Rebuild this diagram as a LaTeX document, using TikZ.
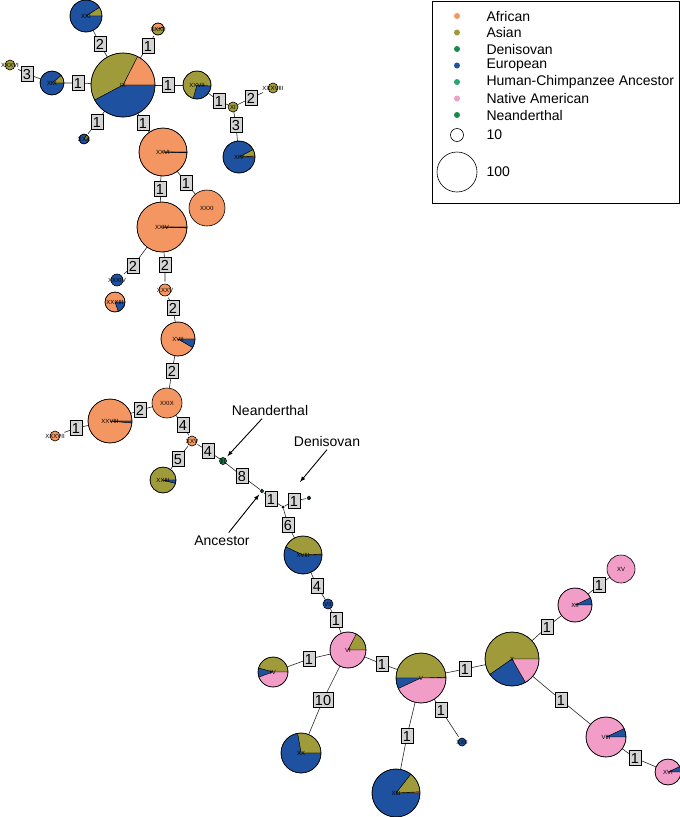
\documentclass[tikz,border=0pt]{standalone}
\usepackage{fontspec}
\setmainfont{Liberation Sans}
\usetikzlibrary{arrows}
\pgfdeclarelayer{linien}
\pgfdeclarelayer{kuchen}
\pgfsetlayers{linien,kuchen,main}
\definecolor{afrika}{RGB}{244,150,98}
\definecolor{asien}{RGB}{160,155,58}
\definecolor{denisova}{RGB}{22,138,72}
\definecolor{europa}{RGB}{30,82,160}
\definecolor{urahn}{RGB}{36,168,112}
\definecolor{amerika}{RGB}{242,156,200}
\definecolor{neandertal}{RGB}{22,138,72}

\begin{document}
\begin{tikzpicture}[x=1pt, y=-1pt,
    knoten/.style={
      circle,
      inner sep=0pt,
      font=\fontsize{6}{6}\selectfont},
    kasten/.style={
      rectangle,
      draw,
      fill=black!17,
      line width=.5pt,
      inner xsep=1.8pt,
      inner ysep=2.4pt,
      text height=10.5pt,
      text depth=0pt,
      font=\fontsize{14.5}{14.5}\selectfont},
    linie/.style={draw=black!85, line width=.6pt},
    punkt/.style={circle, inner sep=0pt, minimum size=6pt},
    /torte/.code n args={4}{
      \node at (#2) (knoten#1) [knoten] {#1};
      \begin{pgfonlayer}{kuchen}
      \foreach \a/\b/\c in {#4}
        \filldraw[fill=\c, draw=black, line width=.4pt] (knoten#1.center) -- ++(-\a:#3) arc (-\a:-\b:#3) -- cycle;
      \draw[line width=.6pt] (knoten#1.center) circle (#3);
      \end{pgfonlayer}
      },
    /scheibe/.code n args={4}{
      \node at (#2) (knoten#1) [knoten] {#1};
      \begin{pgfonlayer}{kuchen}
      \filldraw[fill=#4, draw=black, line width=.6pt] (knoten#1.center) circle (#3);
      \end{pgfonlayer}
      }
    ]
  \useasboundingbox (0,0) rectangle (680,817);

  % haplotypes
  \tikzset{/torte={XXI}{86,16}{16}{0/33/asien, 33/360/europa}}
  \tikzset{/torte={XXXII}{158,29}{6}{20/180/afrika, 180/380/asien}}
  \tikzset{/torte={IX}{123,85}{32}{0/63/afrika, 63/208/asien, 208/360/europa}}
  \tikzset{/torte={XIX}{52,83}{12}{0/40/asien, 40/360/europa}}
  \tikzset{/scheibe={XXXVI}{10,65}{5}{asien}}
  \tikzset{/torte={XXX}{84,139}{5}{0/60/asien, 60/360/europa}}
  \tikzset{/torte={XXVII}{197,85}{14}{355/615/asien, 255/355/europa}}
  \tikzset{/scheibe={XI}{233,107}{5}{asien}}
  \tikzset{/scheibe={XXXVIII}{273,88}{5}{asien}}
  \tikzset{/torte={XIV}{239,157}{16}{0/4/afrika, 4/28/asien, 28/360/europa}}
  \tikzset{/torte={XXVI}{163,152}{24}{0/358/afrika, 358/359/asien, 359/360/europa}}
  \tikzset{/scheibe={XXXI}{207,208}{18}{afrika}}
  \tikzset{/torte={XXIV}{162,227}{25}{0/358/afrika, 358/359/asien, 359/360/europa}}
  \tikzset{/scheibe={XXXIV}{117,280}{6}{europa}}
  \tikzset{/torte={XXXIII}{115,302}{10}{0/290/afrika, 290/360/europa}}
  \tikzset{/scheibe={XXXV}{165,290}{6}{afrika}}
  \tikzset{/torte={XVII}{178,339}{17}{0/330/afrika, 330/360/europa}}
  \tikzset{/scheibe={XXIX}{167,403}{15}{afrika}}
  \tikzset{/torte={XXVIII}{110,421}{22}{0/355/afrika, 355/360/europa}}
  \tikzset{/scheibe={XXXVII}{55,436}{5}{afrika}}
  \tikzset{/scheibe={XXV}{192,441}{5}{afrika}}
  \tikzset{/scheibe={III}{223,461}{3.5}{neandertal}}
  \tikzset{/torte={XXIII}{163,480}{13}{0/345/asien, 345/360/europa}}
  \tikzset{/scheibe={I}{262,491}{1.6}{urahn}}
  \tikzset{/scheibe={II}{309,498}{1.6}{denisova}}
  \node at (283,507) (knotenM) [knoten, fill=black, minimum size=3pt] {};
  \tikzset{/torte={XVIII}{303,555}{19}{0/3/afrika, 3/155/asien, 155/360/europa}}
  \tikzset{/scheibe={VII}{328,604}{5}{europa}}
  \tikzset{/torte={VI}{348,650}{18}{0/63/asien, 63/360/amerika}}
  \tikzset{/torte={IV}{273,672}{15}{0/165/asien, 165/200/europa, 200/360/amerika}}
  \tikzset{/torte={XX}{301,753}{20}{0/100/asien, 100/360/europa}}
  \tikzset{/torte={V}{421,678}{25}{0/2/afrika, 2/180/asien, 180/205/europa, 205/360/amerika}}
  \tikzset{/scheibe={XXII}{462,742}{4}{europa}}
  \tikzset{/torte={XIII}{396,793}{24}{0/3/afrika, 3/52/asien, 52/360/europa}}
  \tikzset{/torte={X}{512,659}{27}{0/215/asien, 215/300/europa, 300/360/amerika}}
  \tikzset{/torte={XII}{575,605}{17}{0/25/europa, 25/360/amerika}}
  \tikzset{/scheibe={XV}{621,569}{14}{amerika}}
  \tikzset{/torte={VIII}{606,737}{20}{0/25/europa, 25/360/amerika}}
  \tikzset{/torte={XVI}{668,772}{13}{0/25/europa, 25/360/amerika}}

  % mutation counts
  \foreach \k/\x/\y/\t in {01/100/44/2, 02/148/46/1, 03/78/83/1, 04/27/74/3,
      05/168/85/1, 06/97/122/1, 07/143/123/1, 08/219/101/1, 09/251/98/2,
      10/236/125/3, 11/160/189/1, 12/186/183/1, 13/133/266/2, 14/165/265/2,
      15/173/308/2, 16/172/371/2, 17/140/410/2, 18/76/428/1, 19/183/425/4,
      20/208/451/4, 21/178/459/5, 22/242/476/8, 23/271/499/1, 24/294/501/1,
      25/288/525/6, 26/317/586/4, 27/336/620/1, 28/309/659/1, 29/382/664/1,
      30/323/700/10, 31/465/669/1, 32/441/710/1, 33/407/736/1, 34/547/627/1,
      35/599/585/1, 36/561/700/1, 37/635/758/1}
    \node at (\x,\y) (kasten\k) [kasten] {\t};

  \begin{pgfonlayer}{linien}
  \foreach \a/\k/\b in {IX/01/XXI, IX/02/XXXII, IX/03/XIX, XIX/04/XXXVI,
      IX/05/XXVII, IX/06/XXX, IX/07/XXVI, XXVII/08/XI, XI/09/XXXVIII,
      XI/10/XIV, XXVI/11/XXIV, XXVI/12/XXXI, XXIV/13/XXXIV, XXIV/14/XXXV,
      XXXV/15/XVII, XVII/16/XXIX, XXIX/17/XXVIII, XXVIII/18/XXXVII,
      XXIX/19/XXV, XXV/20/III, XXV/21/XXIII, III/22/I, I/23/M, M/24/II,
      M/25/XVIII, XVIII/26/VII, VII/27/VI, VI/28/IV, VI/29/V, VI/30/XX,
      V/31/X, V/32/XXII, V/33/XIII, X/34/XII, XII/35/XV, X/36/VIII,
      VIII/37/XVI}
    \draw[linie] (knoten\a) -- (kasten\k) -- (knoten\b);
  \end{pgfonlayer}

  % annotations
  \node at (270,410) (textNeanderthal) [font=\fontsize{14}{14}\selectfont] {Neanderthal};
  \node at (327,441) (textDenisovan) [font=\fontsize{14}{14}\selectfont] {Denisovan};
  \node at (222,541) (textAncestor) [font=\fontsize{14}{14}\selectfont] {Ancestor};
  \coordinate (zielDenisovan) at (300,482);
  \path [-latex, line width=.9pt] (textNeanderthal) edge [shorten >=3pt] (knotenIII);
  \path [-latex, line width=.9pt] (textDenisovan.south) edge [] (zielDenisovan);
  \path [-latex, line width=.9pt] (textAncestor) edge [shorten >=2pt] (knotenI);

  % legend
  \node at (555.5,102) (legende) [draw, line width=.6pt, minimum width=247pt, minimum height=202pt] {};
  \foreach \farbe/\gruppe [count=\i] in {afrika/African, asien/Asian, denisova/Denisovan,
      europa/European, urahn/Human-Chimpanzee Ancestor, amerika/Native American,
      neandertal/Neanderthal} {
    \node at (457,{16.5*\i-0.5}) (punkt\i) [punkt, fill=\farbe] {};
    \node at (483,{16.5*\i-0.5}) (gruppe\i) [anchor=west, font=\fontsize{14}{14}\selectfont] {\gruppe};
  }
  \node at (457,135) (groesse10) [circle, draw, line width=.6pt, inner sep=0pt, minimum size=13pt] {};
  \node at (483,135) (zahl10) [anchor=west, font=\fontsize{14}{14}\selectfont] {10};
  \node at (457,172) (groesse100) [circle, draw, line width=.6pt, inner sep=0pt, minimum size=40pt] {};
  \node at (483,172) (zahl100) [anchor=west, font=\fontsize{14}{14}\selectfont] {100};

\end{tikzpicture}
\end{document}
